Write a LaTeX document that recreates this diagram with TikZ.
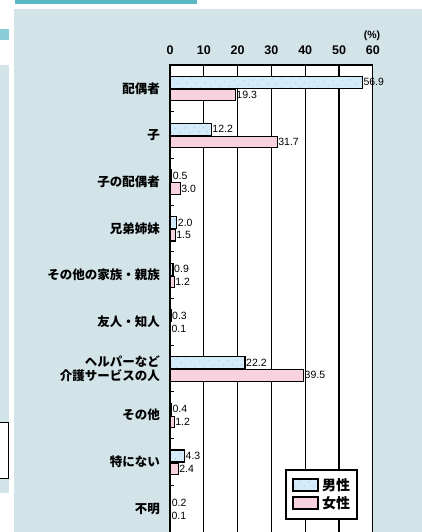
\documentclass[tikz,border=0pt]{standalone}
\usepackage{fontspec}
\setmainfont{Liberation Sans}
\newfontfamily\jp{Noto Sans CJK JP}
\usetikzlibrary{patterns.meta}
\definecolor{panel}{RGB}{211,228,233}
\definecolor{tealbar}{RGB}{90,184,197}
\definecolor{maleblue}{RGB}{212,236,250}
\definecolor{femalepink}{RGB}{249,210,224}
\definecolor{dotblue}{RGB}{110,150,190}

\begin{document}
\begin{tikzpicture}[x=1pt,y=-1pt]
\tikzstyle{male}=[draw=black,line width=1.1pt,preaction={fill=maleblue},pattern={Dots[radius=0.55pt,distance=6.5pt,angle=45]},pattern color=dotblue]
\tikzstyle{female}=[draw=black,line width=1.1pt,fill=femalepink]
\tikzstyle{cat}=[anchor=east,align=right,inner sep=0pt,font=\jp\bfseries\fontsize{12.5}{14}\selectfont]
\tikzstyle{axis}=[inner sep=0pt,font=\bfseries\fontsize{12.5}{14}\selectfont]
\tikzstyle{val}=[anchor=west,inner sep=1pt,font=\fontsize{10.5}{12}\selectfont]
\tikzstyle{legtext}=[anchor=west,inner sep=0pt,font=\jp\bfseries\fontsize{14}{16}\selectfont]
\tikzstyle{grid}=[line width=1.3pt]
\useasboundingbox (0,0) rectangle (422,532);
\fill[white] (0,0) rectangle (422,532);
\fill[panel] (14,9) rectangle (422,532);
\fill[tealbar] (15,0) rectangle (197,4);
\fill[tealbar!70] (0,29) rectangle (9,40);
\fill[panel] (0,65) rectangle (9,493);
\draw[line width=0.8pt,fill=white] (-2,422) rectangle (8,478);
\fill[white] (170,65) rectangle (372.8,532);
\foreach \v in {1,...,5}
  \draw[grid] ({170+\v*33.8},65) -- ({170+\v*33.8},532);
\draw[grid] (170,532) -- (170,65) -- (372.8,65) -- (372.8,532);
\foreach \i in {1,...,9}
  \draw[line width=1pt] (170,{65+46.7*\i}) -- (174,{65+46.7*\i});
\foreach \v/\t in {0/0,1/10,2/20,3/30,4/40,5/50,6/60}
  \node[axis] (tick\v) at ({170+\v*33.8},50) {\t};
\node[inner sep=0pt,font=\bfseries\fontsize{10.5}{12}\selectfont] (pct) at (372,36) {(\%)};
\foreach \i/\name/\m/\f in {0/配偶者/56.9/19.3,1/子/12.2/31.7,2/子の配偶者/0.5/3.0,
    3/兄弟姉妹/2.0/1.5,4/その他の家族・親族/0.9/1.2,5/友人・知人/0.3/0.1,
    6/{ヘルパーなど\\介護サービスの人}/22.2/39.5,7/その他/0.4/1.2,8/特にない/4.3/2.4,9/不明/0.2/0.1}{
  \pgfmathsetmacro\yc{65+46.7*(\i+0.5)}
  \node[cat] (cat\i) at (160,\yc) {\name};
  \draw[male] (170,{\yc-12}) rectangle ({170+\m*3.38},\yc);
  \draw[female] (170,{\yc+1}) rectangle ({170+\f*3.38},{\yc+12.5});
  \node[val] (mv\i) at ({170+\m*3.38},{\yc-6}) {\m};
  \node[val] (fv\i) at ({170+\f*3.38},{\yc+6.8}) {\f};
}
\draw[line width=1.2pt,fill=white] (286,470) rectangle (357,519);
\draw[male] (293,479) rectangle (318,491);
\draw[female] (293,497) rectangle (318,509);
\node[legtext] (legm) at (322,485) {男性};
\node[legtext] (legf) at (322,503) {女性};
\end{tikzpicture}
\end{document}
